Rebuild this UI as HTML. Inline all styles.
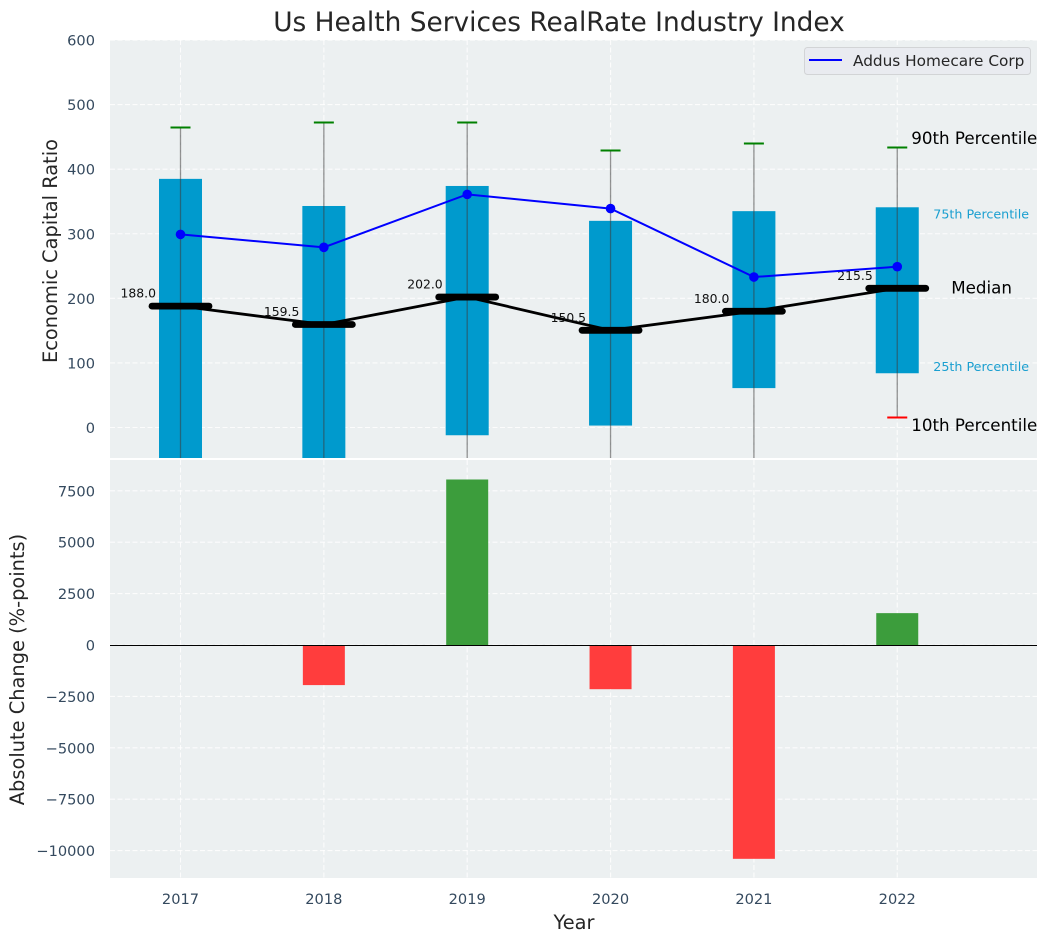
<!DOCTYPE html>
<html lang="en">
<head>
<meta charset="utf-8">
<title>Us Health Services RealRate Industry Index</title>
<style>
html,body{margin:0;padding:0;background:#fff;width:1048px;height:942px;overflow:hidden}
svg{display:block}
text{font-family:"DejaVu Sans","Liberation Sans",sans-serif}
</style>
</head>
<body>
<svg id="chart" width="1048" height="942" viewBox="0 0 1048 942" xmlns="http://www.w3.org/2000/svg">
  <defs>
    <clipPath id="clip-top"><rect x="110" y="40" width="927" height="418"/></clipPath>
    <clipPath id="clip-bottom"><rect x="110" y="460" width="927" height="418"/></clipPath>
  </defs>
  <text x="559" y="31" font-size="26.4" fill="#262626" text-anchor="middle">Us Health Services RealRate Industry Index</text>
  <rect x="110" y="40" width="927" height="418" fill="#ecf0f1"/>
  <rect x="110" y="460" width="927" height="418" fill="#ecf0f1"/>
  <g id="grid-layer"></g>
  <g id="top-layer" clip-path="url(#clip-top)"></g>
  <g id="bottom-layer" clip-path="url(#clip-bottom)"></g>
  <g id="tick-layer"></g>
  <g id="annotation-layer"></g>
  <text transform="translate(57,251) rotate(-90)" font-size="19.4" fill="#262626" text-anchor="middle">Economic Capital Ratio</text>
  <text transform="translate(24,669.5) rotate(-90)" font-size="19.4" fill="#262626" text-anchor="middle">Absolute Change (%-points)</text>
  <text x="574" y="929" font-size="19.4" fill="#262626" text-anchor="middle">Year</text>
  <g>
    <rect x="804.5" y="47.5" width="226" height="27" rx="3" fill="#e9ebf0" stroke="#d2d4d6"/>
    <line x1="809" y1="60" x2="842" y2="60" stroke="#0000ff" stroke-width="2"/>
    <text x="853" y="66" font-size="15.3" fill="#262626">Addus Homecare Corp</text>
  </g>
</svg>
<script>
const years = ['2017', '2018', '2019', '2020', '2021', '2022'];
const p90 = [465, 473, 473, 430, 440, 434];
const p75 = [385, 343, 374, 320, 335, 341];
const median = [188, 159.5, 202, 150.5, 180, 215.5];
const p25 = [-70, -60, -12, 3, 61, 84];
const p10 = [-110, -100, -80, -70, -60, 16];
const company = [299, 279, 361, 339, 233, 249];
const change = [0, -1950, 8050, -2150, -10400, 1550];
const topTicks = [0, 100, 200, 300, 400, 500, 600];
const bottomTicks = [-10000, -7500, -5000, -2500, 0, 2500, 5000, 7500];

const NS = 'http://www.w3.org/2000/svg';
const xPos = i => 180.5 + i * 143.35;
const yTop = v => 427.5 - v * 0.6458;
const yBottom = v => 645 - v * 0.02056;
const snap = y => Math.round(y) + 0.5;
const TICK = '#34495e';

function make(parent, tag, attrs, txt) {
  const el = document.createElementNS(NS, tag);
  for (const k in attrs) el.setAttribute(k, attrs[k]);
  if (txt !== undefined) el.textContent = txt;
  parent.appendChild(el);
  return el;
}
function fmt(v) { return String(v).replace('-', '\u2212'); }

const grid = document.getElementById('grid-layer');
const topL = document.getElementById('top-layer');
const botL = document.getElementById('bottom-layer');
const tickL = document.getElementById('tick-layer');
const annL = document.getElementById('annotation-layer');
const gridStyle = {stroke: '#ffffff', 'stroke-width': 1.1, 'stroke-dasharray': '5 2.5', opacity: 0.85};

topTicks.forEach(t => {
  const l = make(grid, 'line', Object.assign({x1: 110, x2: 1037, y1: yTop(t), y2: yTop(t)}, gridStyle));
  
  
  const lab = make(tickL, 'text', {x: 95, y: yTop(t) + 5.5, 'font-size': 14.6, fill: TICK, 'text-anchor': 'end'}, fmt(t));
  
  
});
bottomTicks.forEach(t => {
  const l = make(grid, 'line', Object.assign({x1: 110, x2: 1037, y1: yBottom(t), y2: yBottom(t)}, gridStyle));
  
  
  const lab = make(tickL, 'text', {x: 95, y: yBottom(t) + 5.5, 'font-size': 14.6, fill: TICK, 'text-anchor': 'end'}, fmt(t));
  
  
});
years.forEach((yr, i) => {
  const x = xPos(i);
  [[40, 458], [460, 878]].forEach(r => {
    const l = make(grid, 'line', Object.assign({x1: x, x2: x, y1: r[0], y2: r[1]}, gridStyle));
    
    
  });
  const lab = make(tickL, 'text', {x: x, y: 904, 'font-size': 14.6, fill: TICK, 'text-anchor': 'middle'}, yr);
  
  
});

const polyMedian = median.map((v, i) => xPos(i) + ',' + yTop(v)).join(' ');
const polyCompany = company.map((v, i) => xPos(i) + ',' + yTop(v)).join(' ');

years.forEach((yr, i) => {
  const x = xPos(i);
  const box = make(topL, 'rect', {x: x - 21.5, width: 43, y: yTop(p75[i]), height: yTop(p25[i]) - yTop(p75[i]), fill: '#009acd'});
  
  
});
years.forEach((yr, i) => {
  const x = xPos(i);
  const w = make(topL, 'line', {x1: x, x2: x, y1: yTop(p90[i]), y2: yTop(p10[i]), stroke: '#3c3c3c', 'stroke-opacity': 0.55, 'stroke-width': 1.3});
  
  
  const c1 = make(topL, 'line', {x1: x - 10, x2: x + 10, y1: snap(yTop(p90[i])), y2: snap(yTop(p90[i])), stroke: '#008000', 'stroke-width': 2});
  
  
  const c2 = make(topL, 'line', {x1: x - 10, x2: x + 10, y1: snap(yTop(p10[i])), y2: snap(yTop(p10[i])), stroke: '#ff0000', 'stroke-width': 2});
  
  
});

const medLine = make(topL, 'polyline', {points: polyMedian, fill: 'none', stroke: '#000', 'stroke-width': 2.8});


years.forEach((yr, i) => {
  const x = xPos(i);
  const m = make(topL, 'line', {x1: x - 28.5, x2: x + 28.5, y1: yTop(median[i]), y2: yTop(median[i]), stroke: '#000', 'stroke-width': 6.8, 'stroke-linecap': 'round'});
  
  
  const t = make(topL, 'text', {x: x - 24.5, y: yTop(median[i]) - 8.5, 'font-size': 12.4, fill: '#111', 'text-anchor': 'end'}, median[i].toFixed(1));
  
  
});

const compLine = make(topL, 'polyline', {points: polyCompany, fill: 'none', stroke: '#0000ff', 'stroke-width': 2});


company.forEach((v, i) => {
  const p = make(topL, 'circle', {cx: xPos(i), cy: yTop(v), r: 4.8, fill: '#0000ff'});
  
  
});

change.forEach((v, i) => {
  const x = xPos(i);
  const y0 = yBottom(0), y1 = yBottom(v);
  const b = make(botL, 'rect', {x: x - 21, width: 42, y: Math.min(y0, y1), height: Math.abs(y1 - y0), fill: v >= 0 ? '#3c9d3c' : '#ff3d3d'});
  
  
});
const zero = make(botL, 'line', {x1: 110, x2: 1037, y1: snap(yBottom(0)), y2: snap(yBottom(0)), stroke: '#000', 'stroke-width': 1.1});



const last = years.length - 1;
const lx = xPos(last);
const a90 = make(annL, 'text', {x: lx + 14, y: yTop(p90[last]) - 3, 'font-size': 16.7, fill: '#000'}, '90th Percentile');


const a75 = make(annL, 'text', {x: lx + 36, y: yTop(p75[last]) + 11, 'font-size': 12.7, fill: '#1a9fd0'}, '75th Percentile');


const aMed = make(annL, 'text', {x: lx + 54, y: yTop(median[last]) + 5, 'font-size': 16.7, fill: '#000'}, 'Median');


const a25 = make(annL, 'text', {x: lx + 36, y: yTop(p25[last]) - 2.5, 'font-size': 12.7, fill: '#1a9fd0'}, '25th Percentile');


const a10 = make(annL, 'text', {x: lx + 14, y: yTop(p10[last]) + 14, 'font-size': 16.7, fill: '#000'}, '10th Percentile');


</script>
</body>
</html>
